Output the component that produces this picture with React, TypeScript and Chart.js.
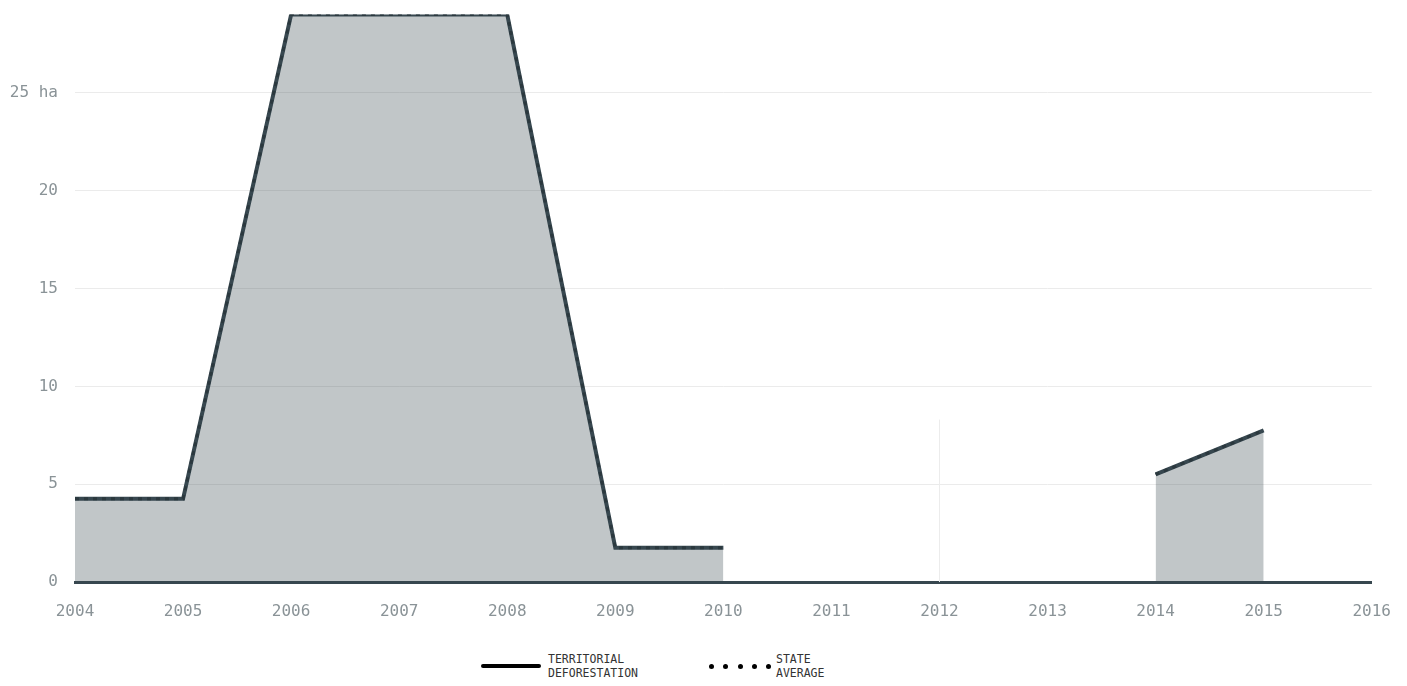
import React, { useEffect, useRef } from "react";
import { Chart, registerables } from "chart.js";

Chart.register(...registerables);

const years = [2004, 2005, 2006, 2007, 2008, 2009, 2010, 2011, 2012, 2013, 2014, 2015, 2016];
const territorial: (number | null)[] = [4.25, 4.25, 29, 29, 29, 1.75, 1.75, null, null, null, 5.5, 7.75, null];
const stateAverage: (number | null)[] = [4.25, 4.25, 29, 29, 29, 1.75, 1.75, null, null, null, 5.5, 7.75, null];
const markerX = [2012, 2012];
const markerY = [0, 8.3];
const yTicks = [0, 5, 10, 15, 20, 25];

const DARK = "#37474f";
const TICK = "#8a9397";
const FONT = "'DejaVu Sans Mono', monospace";

export default function App() {
  const ref = useRef<HTMLCanvasElement>(null);
  useEffect(() => {
    if (!ref.current) return;
    const chart = new Chart(ref.current, {
      type: "line",
      data: {
        datasets: [
          {
            label: "marker",
            data: markerX.map((x, i) => ({ x, y: markerY[i] })),
            borderColor: "#ececec",
            borderWidth: 1,
            pointRadius: 0,
            fill: false,
            order: 3,
          },
          {
            label: "Territorial deforestation",
            data: years.map((x, i) => ({ x, y: territorial[i] })) as any,
            borderColor: DARK,
            backgroundColor: "rgba(55,71,79,0.31)",
            borderWidth: 4,
            borderJoinStyle: "miter",
            pointRadius: 0,
            tension: 0,
            fill: "origin",
            spanGaps: false,
            order: 2,
          },
          {
            label: "State average",
            data: years.map((x, i) => ({ x, y: stateAverage[i] })) as any,
            borderColor: "#2b383e",
            borderWidth: 3,
            borderDash: [4, 5],
            pointRadius: 0,
            tension: 0,
            fill: false,
            spanGaps: false,
            order: 1,
          },
        ],
      },
      options: {
        animation: false,
        responsive: true,
        maintainAspectRatio: false,
        layout: { padding: { top: 7, right: 14, left: 0, bottom: 0 } },
        plugins: { legend: { display: false }, tooltip: { enabled: false } },
        scales: {
          x: {
            type: "linear",
            min: 2004,
            max: 2016,
            z: 1,
            grid: { display: false, drawTicks: false },
            border: { display: true, color: DARK, width: 3 },
            ticks: {
              stepSize: 1,
              padding: 20,
              color: TICK,
              font: { family: FONT, size: 16 },
              callback: (v: any) => String(v),
            },
            afterFit: (s: any) => {
              s.height = 46;
            },
          },
          y: {
            min: 0,
            max: 29,
            afterBuildTicks: (s: any) => {
              s.ticks = yTicks.map((v) => ({ value: v }));
            },
            grid: { color: "#ebebeb", drawTicks: false, lineWidth: 1 },
            border: { display: false },
            ticks: {
              padding: 17,
              color: TICK,
              font: { family: FONT, size: 16 },
              callback: (v: any) => (v === 25 ? "25 ha" : String(v)),
            },
            afterFit: (s: any) => {
              s.width = 67;
            },
          },
        },
      },
    });
    return () => chart.destroy();
  }, []);

  const legendText: React.CSSProperties = {
    fontFamily: FONT,
    fontSize: 11.5,
    lineHeight: "14px",
    color: "#333",
    textTransform: "uppercase",
  };

  return (
    <div style={{ width: 1391 }}>
      <div style={{ position: "relative", width: 1391, height: 620, overflow: "hidden" }}>
        <div style={{ position: "absolute", left: 0, top: -20, width: 1403, height: 640 }}>
          <canvas ref={ref} />
        </div>
      </div>
      <div style={{ position: "relative", height: 50 }}>
        <div style={{ position: "absolute", left: 473, top: 24, display: "flex", alignItems: "center" }}>
          <div style={{ width: 60, height: 4, background: "#000", borderRadius: 2, marginRight: 7 }} />
          <div style={legendText}>
            Territorial
            <br />
            Deforestation
          </div>
        </div>
        <div style={{ position: "absolute", left: 701, top: 24, display: "flex", alignItems: "center" }}>
          <div style={{ display: "flex", width: 62, justifyContent: "space-between", marginRight: 5 }}>
            {[0, 1, 2, 3, 4].map((i) => (
              <div key={i} style={{ width: 5, height: 5, borderRadius: 3, background: "#000" }} />
            ))}
          </div>
          <div style={legendText}>
            State
            <br />
            Average
          </div>
        </div>
      </div>
    </div>
  );
}
